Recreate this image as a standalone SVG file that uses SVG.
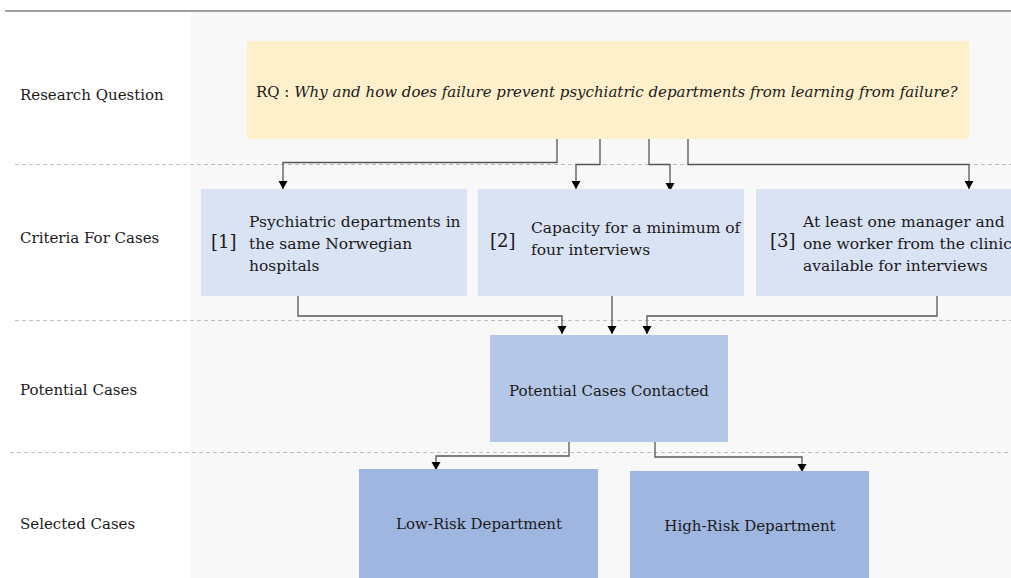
<svg xmlns="http://www.w3.org/2000/svg" width="1011" height="578" viewBox="0 0 1011 578">
<defs>
<marker id="arr" markerWidth="10" markerHeight="10" refX="8" refY="4.5" orient="auto" markerUnits="userSpaceOnUse">
<path d="M0,0 L8,4.5 L0,9 Z" fill="#000"/>
</marker>
<style>
text{font-family:"DejaVu Serif","Liberation Serif",serif;font-size:15px;fill:#1a1a1a}
.crit{font-size:15.5px}
.num{font-size:18px}
.c{text-anchor:middle}
.dash{stroke:#bfbfbf;stroke-width:1;stroke-dasharray:4,3;fill:none}
.con{stroke:#555;stroke-width:1.3;fill:none;marker-end:url(#arr)}
</style>
</defs>
<rect x="0" y="0" width="1011" height="578" fill="#fff"/>
<rect x="191" y="12" width="820" height="566" fill="#f8f8f8"/>
<line x1="5" y1="11" x2="1011" y2="11" stroke="#7f7f7f" stroke-width="1.5"/>
<line class="dash" x1="15" y1="164.5" x2="1011" y2="164.5"/>
<line class="dash" x1="15" y1="320.5" x2="1011" y2="320.5"/>
<line class="dash" x1="10" y1="452.5" x2="1011" y2="452.5"/>
<g id="lanes">
<text x="20" y="100">Research Question</text>
<text x="20" y="243">Criteria For Cases</text>
<text x="20" y="395">Potential Cases</text>
<text x="20" y="529">Selected Cases</text>
</g>
<g id="connectors">
<path class="con" d="M557,139 V162.5 H283 V189"/>
<path class="con" d="M600,139 V164.5 H576 V189"/>
<path class="con" d="M649,139 V164.5 H670 V191"/>
<path class="con" d="M688,139 V164.5 H969 V189"/>
<path class="con" d="M298,296 V316 H562 V334"/>
<path class="con" d="M612,296 V334"/>
<path class="con" d="M937,296 V316 H647 V334"/>
<path class="con" d="M569,442 V456 H436 V470"/>
<path class="con" d="M655,442 V457 H802 V472"/>
</g>
<g id="rq">
<rect x="247" y="41" width="722" height="98" fill="#fff0cc"/>
<text x="256" y="97">RQ : <tspan font-style="italic">Why and how does failure prevent psychiatric departments from learning from failure?</tspan></text>
</g>
<g id="c1">
<rect x="201" y="189" width="266" height="107" fill="#dae3f3"/>
<text class="num" x="211" y="248">[1]</text>
<text class="crit" x="249" y="227">Psychiatric departments in</text>
<text class="crit" x="249" y="249">the same Norwegian</text>
<text class="crit" x="249" y="271">hospitals</text>
</g>
<g id="c2">
<rect x="478" y="189" width="266" height="107" fill="#dae3f3"/>
<text class="num" x="490" y="247">[2]</text>
<text class="crit" x="531" y="233">Capacity for a minimum of</text>
<text class="crit" x="531" y="255">four interviews</text>
</g>
<g id="c3">
<rect x="756" y="189" width="260" height="107" fill="#dae3f3"/>
<text class="num" x="770" y="247">[3]</text>
<text class="crit" x="803" y="227">At least one manager and</text>
<text class="crit" x="803" y="249">one worker from the clinic</text>
<text class="crit" x="803" y="271">available for interviews</text>
</g>
<g id="potential">
<rect x="490" y="335" width="238" height="107" fill="#b4c7e7"/>
<text class="c" x="609" y="396">Potential Cases Contacted</text>
</g>
<g id="low">
<rect x="359" y="469" width="239" height="109" fill="#9fb6e0"/>
<text class="c" x="479" y="529">Low-Risk Department</text>
</g>
<g id="high">
<rect x="630" y="471" width="239" height="107" fill="#9fb6e0"/>
<text class="c" x="750" y="531">High-Risk Department</text>
</g>
</svg>
